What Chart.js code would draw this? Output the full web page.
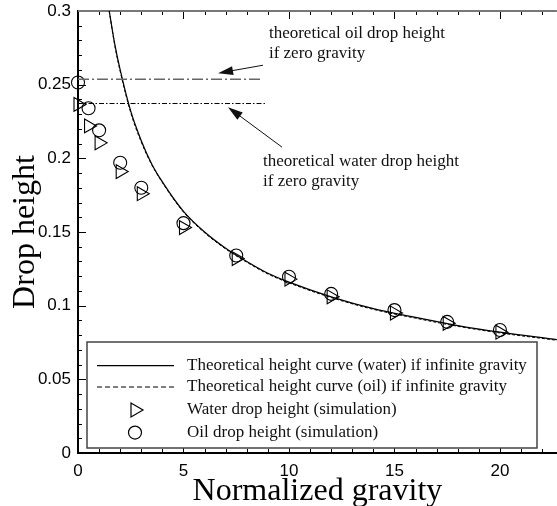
<!DOCTYPE html>
<html>
<head>
<meta charset="utf-8">
<script src="https://cdn.jsdelivr.net/npm/chart.js@4.4.0/dist/chart.umd.min.js"></script>
<style>
  html, body { margin: 0; padding: 0; background: #fff; overflow: hidden; }
  #wrap { width: 557px; height: 506px; overflow: hidden; }
  canvas { display: block; }
</style>
</head>
<body>
<div id="wrap">
<canvas id="dropChart" width="566" height="506" style="width:566px;height:506px"></canvas>
</div>
<script>
// --- data ---
const gravity  = [0, 0.5, 1, 2, 3, 5, 7.5, 10, 12, 15, 17.5, 20];
const waterSim = [0.2366, 0.222, 0.2105, 0.191, 0.176, 0.153, 0.132, 0.118, 0.106, 0.095, 0.088, 0.082];
const oilSim   = [0.2515, 0.234, 0.219, 0.197, 0.180, 0.156, 0.134, 0.1196, 0.108, 0.097, 0.089, 0.0835];

const curveGravity = [1.48, 1.75, 2, 2.5, 3, 3.5, 4, 5, 6, 7, 8, 9, 10, 12, 14, 16, 18, 20, 22.7];
const waterCurve   = [0.300, 0.277, 0.260, 0.232, 0.212, 0.196, 0.184, 0.164, 0.150, 0.139, 0.130, 0.122, 0.116, 0.106, 0.098, 0.092, 0.0865, 0.082, 0.077];
const oilCurve     = [0.300, 0.276, 0.259, 0.231, 0.211, 0.1955, 0.1835, 0.1635, 0.1495, 0.1385, 0.1295, 0.1215, 0.1155, 0.1055, 0.0975, 0.0915, 0.086, 0.0815, 0.0765];

const zeroGravityOil   = 0.2537;   // dash-dot level, oil
const zeroGravityWater = 0.2372;   // dash-dot level, water
const zeroLineEndOil   = 8.63;
const zeroLineEndWater = 8.86;

const xTicksMajor = [0, 5, 10, 15, 20];
const yTicksMajor = [0, 0.05, 0.1, 0.15, 0.2, 0.25, 0.3];

const legendLabels = [
  "Theoretical height curve (water) if infinite gravity",
  "Theoretical height curve (oil) if infinite gravity",
  "Water drop height (simulation)",
  "Oil drop height (simulation)"
];
const oilNote   = ["theoretical oil drop height", "if zero gravity"];
const waterNote = ["theoretical water drop height", "if zero gravity"];

const X_MAX = 22.7;
const SERIF = "'Liberation Serif', 'Times New Roman', serif";
const SANS  = "'Liberation Sans', Arial, sans-serif";

const pts = (xs, ys) => xs.map((x, i) => ({ x, y: ys[i] }));

// inward ticks, top frame line, annotations and the boxed legend
const decorations = {
  id: "decorations",
  beforeDatasetsDraw(chart) {
    const { ctx, chartArea: a, scales: { x, y } } = chart;
    ctx.save();
    ctx.strokeStyle = "#000";
    ctx.lineWidth = 1;
    for (let v = 0; v <= X_MAX + 1e-9; v += 1) {
      const px = Math.round(x.getPixelForValue(v)) + 0.5;
      const len = xTicksMajor.includes(v) ? 8 : 4;
      ctx.beginPath();
      ctx.moveTo(px, a.bottom); ctx.lineTo(px, a.bottom - len);
      ctx.moveTo(px, a.top);    ctx.lineTo(px, a.top + len);
      ctx.stroke();
    }
    for (let i = 0; i <= 30; i++) {
      const py = Math.round(y.getPixelForValue(i / 100)) + 0.5;
      const len = i % 5 === 0 ? 8 : 4;
      ctx.beginPath();
      ctx.moveTo(a.left, py); ctx.lineTo(a.left + len, py);
      ctx.stroke();
    }
    // top frame (grey)
    ctx.strokeStyle = "#777";
    ctx.lineWidth = 2;
    ctx.beginPath();
    ctx.moveTo(a.left, a.top); ctx.lineTo(a.right, a.top);
    ctx.stroke();
    ctx.restore();
  },
  afterDatasetsDraw(chart) {
    const { ctx, chartArea: a, scales: { x, y } } = chart;
    const P = (gx, gy) => [x.getPixelForValue(gx), y.getPixelForValue(gy)];
    ctx.save();

    // annotations
    ctx.fillStyle = "#111";
    ctx.font = "17px " + SERIF;
    ctx.textBaseline = "middle";
    ctx.textAlign = "left";
    let [tx, ty] = P(9.05, 0.285);
    ctx.fillText(oilNote[0], tx, ty);
    ctx.fillText(oilNote[1], tx, ty + 20);
    [tx, ty] = P(8.77, 0.1976);
    ctx.fillText(waterNote[0], tx, ty);
    ctx.fillText(waterNote[1], tx, ty + 20);

    const arrow = (from, to) => {
      const [x1, y1] = P(...from), [x2, y2] = P(...to);
      const ang = Math.atan2(y2 - y1, x2 - x1);
      const hl = 15, hw = 4.5;
      ctx.strokeStyle = "#111";
      ctx.lineWidth = 1;
      ctx.beginPath();
      ctx.moveTo(x1, y1);
      ctx.lineTo(x2 - Math.cos(ang) * hl * 0.8, y2 - Math.sin(ang) * hl * 0.8);
      ctx.stroke();
      ctx.beginPath();
      ctx.moveTo(x2, y2);
      ctx.lineTo(x2 - Math.cos(ang) * hl - Math.sin(ang) * hw, y2 - Math.sin(ang) * hl + Math.cos(ang) * hw);
      ctx.lineTo(x2 - Math.cos(ang) * hl + Math.sin(ang) * hw, y2 - Math.sin(ang) * hl - Math.cos(ang) * hw);
      ctx.closePath();
      ctx.fill();
    };
    arrow([8.77, 0.2632], [6.64, 0.2578]);
    arrow([9.67, 0.2076], [7.11, 0.2347]);

    // legend box
    const bx = a.left + 9, by = 342, bw = 450, bh = 106;
    ctx.fillStyle = "#fff";
    ctx.fillRect(bx, by, bw, bh);
    ctx.strokeStyle = "#444";
    ctx.lineWidth = 1.5;
    ctx.strokeRect(bx, by, bw, bh);

    const rows = [365.7, 387, 410, 432.6];
    ctx.strokeStyle = "#000";
    ctx.lineWidth = 1.2;
    ctx.beginPath();
    ctx.moveTo(bx + 10, rows[0]); ctx.lineTo(bx + 87, rows[0]);
    ctx.stroke();
    ctx.setLineDash([5, 3]);
    ctx.beginPath();
    ctx.moveTo(bx + 10, rows[1]); ctx.lineTo(bx + 87, rows[1]);
    ctx.stroke();
    ctx.setLineDash([]);
    ctx.fillStyle = "rgba(0,0,0,0)";
    Chart.helpers.drawPoint(ctx, { pointStyle: "triangle", radius: 8, rotation: 90, borderWidth: 1.2 }, bx + 48, rows[2]);
    Chart.helpers.drawPoint(ctx, { pointStyle: "circle", radius: 6.5, rotation: 0, borderWidth: 1.2 }, bx + 48, rows[3]);

    ctx.fillStyle = "#111";
    ctx.font = "17px " + SERIF;
    legendLabels.forEach((t, i) => ctx.fillText(t, bx + 100, rows[i]));
    ctx.restore();
  }
};

new Chart(document.getElementById("dropChart"), {
  type: "scatter",
  data: {
    datasets: [
      {
        label: "zero gravity oil",
        data: [{ x: 0, y: zeroGravityOil }, { x: zeroLineEndOil, y: zeroGravityOil }],
        showLine: true, borderColor: "#666", borderWidth: 1.5,
        borderDash: [11, 3, 2, 3], pointRadius: 0
      },
      {
        label: "zero gravity water",
        data: [{ x: 0, y: zeroGravityWater }, { x: zeroLineEndWater, y: zeroGravityWater }],
        showLine: true, borderColor: "#000", borderWidth: 1,
        borderDash: [5, 2, 1.5, 2], pointRadius: 0
      },
      {
        label: legendLabels[0],
        data: pts(curveGravity, waterCurve),
        showLine: true, borderColor: "#000", borderWidth: 1.2,
        cubicInterpolationMode: "monotone", pointRadius: 0
      },
      {
        label: legendLabels[1],
        data: pts(curveGravity, oilCurve),
        showLine: true, borderColor: "#000", borderWidth: 1,
        borderDash: [3, 2], cubicInterpolationMode: "monotone", pointRadius: 0
      },
      {
        label: legendLabels[2],
        data: pts(gravity, waterSim),
        pointStyle: "triangle", rotation: 90, pointRadius: 8,
        pointBorderColor: "#000", pointBackgroundColor: "rgba(0,0,0,0)",
        pointBorderWidth: 1.1, clip: false
      },
      {
        label: legendLabels[3],
        data: pts(gravity, oilSim),
        pointStyle: "circle", pointRadius: 6.5,
        pointBorderColor: "#000", pointBackgroundColor: "rgba(0,0,0,0)",
        pointBorderWidth: 1.1, clip: false
      }
    ]
  },
  options: {
    responsive: false,
    animation: false,
    events: [],
    layout: { padding: { top: 11, right: 0, left: 0, bottom: 0 } },
    plugins: { legend: { display: false }, tooltip: { enabled: false } },
    scales: {
      x: {
        type: "linear", min: 0, max: X_MAX,
        grid: { display: false, drawTicks: false },
        border: { display: true, color: "#000", width: 2 },
        ticks: {
          stepSize: 5, includeBounds: false, padding: 8, color: "#000",
          font: { family: SANS, size: 17 }, maxRotation: 0
        },
        afterBuildTicks: s => { s.ticks = xTicksMajor.map(v => ({ value: v })); },
        title: {
          display: true, text: "Normalized gravity", color: "#000",
          font: { family: SERIF, size: 32, lineHeight: 0.9 }, padding: 0
        },
        afterFit: s => { s.height = 53; s.paddingLeft = 0; s.paddingRight = 0; }
      },
      y: {
        type: "linear", min: 0, max: 0.3,
        grid: { display: false, drawTicks: false },
        border: { display: true, color: "#000", width: 2 },
        ticks: {
          stepSize: 0.05, padding: 7, color: "#000",
          font: { family: SANS, size: 17 },
          callback: v => String(Number(v.toFixed(2)))
        },
        afterBuildTicks: s => { s.ticks = yTicksMajor.map(v => ({ value: v })); },
        title: {
          display: true, text: "Drop height", color: "#000",
          font: { family: SERIF, size: 32, lineHeight: 0.9 }, padding: { top: 11, bottom: 0 }
        },
        afterFit: s => { s.width = 78; s.paddingTop = 0; s.paddingBottom = 0; }
      }
    }
  },
  plugins: [decorations]
});
</script>
</body>
</html>
